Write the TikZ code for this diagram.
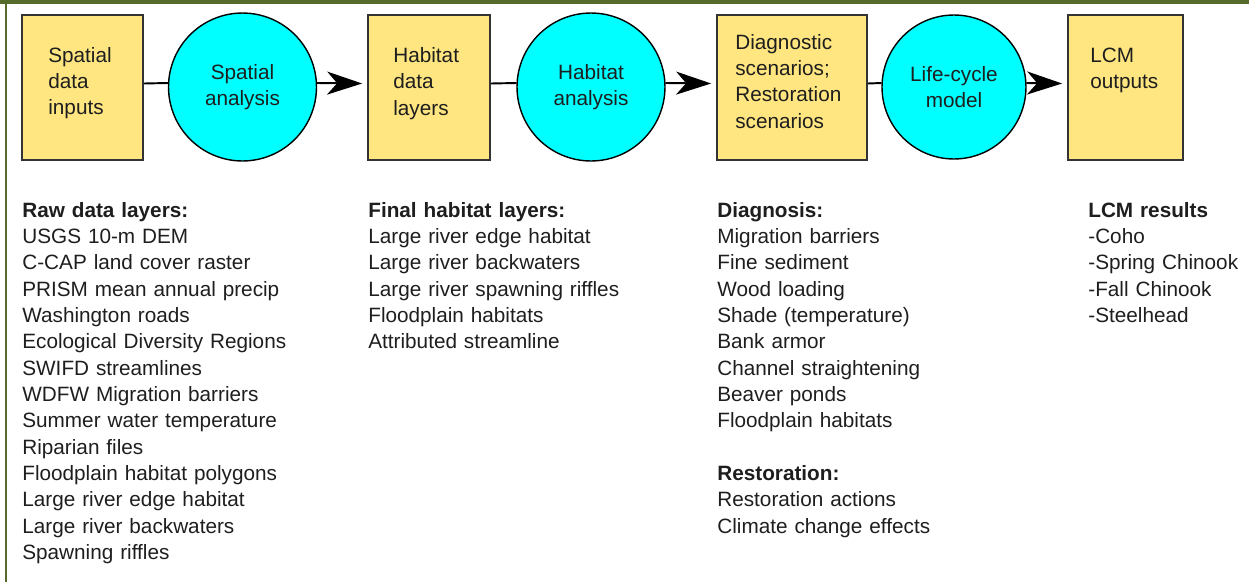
\documentclass[tikz,border=0pt]{standalone}
\usepackage{fontspec}
\setmainfont{Liberation Sans}
\usetikzlibrary{arrows.meta,positioning}

\definecolor{boxyellow}{HTML}{FFE680}
\definecolor{circlecyan}{RGB}{0,255,255}
\definecolor{framegreen}{HTML}{566A2C}
\definecolor{ink}{HTML}{1E1E1E}

\begin{document}
\begin{tikzpicture}[x=0.02cm,y=-0.02cm,
    every node/.style={font=\fontsize{11.8}{15}\selectfont,text=ink}]
    \useasboundingbox (0,0) rectangle (1249,582);
    %Frame
    \fill[framegreen] (0,0) rectangle (1249,4);
    \fill[framegreen] (5,0) rectangle (7,582);

    %Boxes
     \begin{scope}[every node/.style={rectangle,draw=black!80,line width=1pt,
         fill=boxyellow,minimum height=2.9cm}]
       \node[minimum width=2.42cm] (inputs) at (82.5,87.5) {};
       \node[minimum width=2.44cm] (layers) at (429,87.5) {};
       \node[minimum width=3cm] (scenarios) at (792,87.5) {};
       \node[minimum width=2.3cm] (outputs) at (1125.5,87.5) {};
    \end{scope}

    %Circles
     \begin{scope}[every node/.style={circle,draw=black,line width=0.8pt,fill=circlecyan,
         align=center,inner sep=0pt,font=\fontsize{11.8}{15}\selectfont,text=ink}]
       \node[minimum size=2.96cm] (spatial) at (242.5,87) {Spatial\\analysis};
       \node[minimum size=2.96cm] (habitat) at (591,87) {Habitat\\analysis};
       \node[minimum size=2.88cm] (lifecycle) at (954,87) {Life-cycle\\model};
    \end{scope}

    %Box labels
     \begin{scope}[every node/.style={anchor=base west,align=left,inner sep=0pt,
         text width=2.6cm,font=\fontsize{11.8}{15}\selectfont,text=ink}]
       \node (inputstxt) at (48,62) {Spatial\\data\\inputs};
       \node (layerstxt) at (393,62.5) {Habitat\\data\\layers};
       \node (scenariostxt) at (735,49) {Diagnostic\\scenarios;\\Restoration\\scenarios};
       \node (outputstxt) at (1090,62.5) {LCM\\outputs};
    \end{scope}

    %Connectors
     \begin{scope}[every edge/.style={draw,line width=1.1pt},
         tip/.style={-{Stealth[length=0.7cm,width=0.46cm,inset=0.2cm]}}]
      \path ([yshift=0.08cm]inputs.east) edge ([yshift=0.08cm]spatial.west);
      \path ([yshift=0.08cm]spatial.east) edge[tip] ([xshift=-0.1cm,yshift=0.08cm]layers.west);
      \path ([yshift=0.08cm]layers.east) edge ([yshift=0.08cm]habitat.west);
      \path ([yshift=0.08cm]habitat.east) edge[tip] ([xshift=-0.1cm,yshift=0.08cm]scenarios.west);
      \path ([yshift=0.08cm]scenarios.east) edge ([yshift=0.08cm]lifecycle.west);
      \path ([yshift=0.08cm]lifecycle.east) edge[tip] ([xshift=-0.1cm,yshift=0.08cm]outputs.west);
    \end{scope}

    %Lists
     \begin{scope}[every node/.style={anchor=base west,align=left,inner sep=0pt,
         text width=7cm,font=\fontsize{11.8}{15}\selectfont,text=ink}]
       \node (raw) at (22,217) {\textbf{Raw data layers:}\\
         USGS 10-m DEM\\
         C-CAP land cover raster\\
         PRISM mean annual precip\\
         Washington roads\\
         Ecological Diversity Regions\\
         SWIFD streamlines\\
         WDFW Migration barriers\\
         Summer water temperature\\
         Riparian files\\
         Floodplain habitat polygons\\
         Large river edge habitat\\
         Large river backwaters\\
         Spawning riffles};
       \node (final) at (368,217) {\textbf{Final habitat layers:}\\
         Large river edge habitat\\
         Large river backwaters\\
         Large river spawning riffles\\
         Floodplain habitats\\
         Attributed streamline};
       \node (diagnosis) at (717,217) {\textbf{Diagnosis:}\\
         Migration barriers\\
         Fine sediment\\
         Wood loading\\
         Shade (temperature)\\
         Bank armor\\
         Channel straightening\\
         Beaver ponds\\
         Floodplain habitats\\[15pt]
         \textbf{Restoration:}\\
         Restoration actions\\
         Climate change effects};
       \node[text width=3.2cm] (results) at (1088,217) {\textbf{LCM results}\\
         -Coho\\
         -Spring Chinook\\
         -Fall Chinook\\
         -Steelhead};
    \end{scope}
  \end{tikzpicture}
\end{document}
